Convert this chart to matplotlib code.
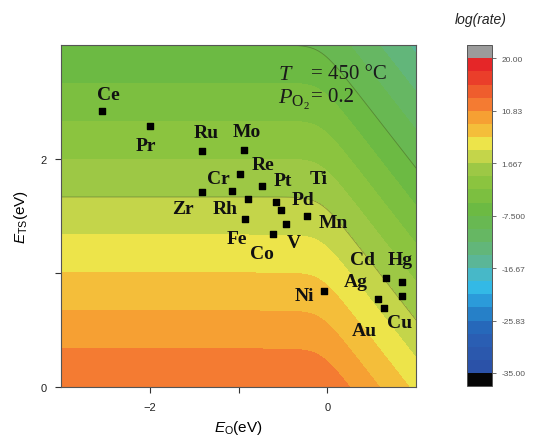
import numpy as np
import matplotlib
matplotlib.use("Agg")
import matplotlib.pyplot as plt
from matplotlib.colors import ListedColormap, BoundaryNorm

plt.rcParams["font.family"] = ["Liberation Sans", "DejaVu Sans"]
plt.rcParams["mathtext.fontset"] = "custom"
plt.rcParams["mathtext.rm"] = "Liberation Sans"
plt.rcParams["mathtext.it"] = "Liberation Sans:italic"
plt.rcParams["mathtext.sf"] = "Liberation Serif:italic"
plt.rcParams["mathtext.tt"] = "Liberation Serif"

# scatter data: oxygen binding energy vs transition state energy
metals = ["Ce", "Pr", "Ru", "Mo", "Re", "Cr", "Zr", "Rh", "Fe", "Pt", "Ti",
          "Pd", "V", "Mn", "Co", "Ni", "Cd", "Hg", "Cu", "Ag", "Au"]
e_o = [-2.54, -2.00, -1.41, -0.94, -0.98, -1.07, -1.41, -0.89, -0.93, -0.74, -0.58,
       -0.52, -0.46, -0.23, -0.61, -0.04, 0.66, 0.84, 0.84, 0.57, 0.64]
e_ts = [2.42, 2.29, 2.07, 2.08, 1.87, 1.72, 1.71, 1.65, 1.47, 1.76, 1.62,
        1.55, 1.43, 1.50, 1.34, 0.84, 0.96, 0.92, 0.80, 0.77, 0.69]

# colorbar levels / labels
levels = np.linspace(-35, 20, 25)
cbar_ticks = [-35.0, -25.83, -16.67, -7.5, 1.667, 10.83, 20.0]
cbar_ticklabels = ["-35.00", "-25.83", "-16.67", "-7.500", "1.667", "10.83", "20.00"]

# rate model parameters (log10 rate surface)
logr0 = 13.125     # log(rate) at E_TS = 0, strong O binding
slope = 6.875      # per eV
eo_bend = -0.08    # eV, where O coverage starts to drop
width = 0.09       # eV

# label offsets (points) for each metal
offsets = {
    "Ce": (5, 12), "Pr": (-3, -14), "Ru": (3, 13), "Mo": (2, 13), "Re": (16, 7),
    "Cr": (-10, 9), "Zr": (-14, -12), "Rh": (-17, -7), "Fe": (-6, -14),
    "Pt": (15, 4), "Ti": (31, 17), "Pd": (16, 8), "V": (5, -13), "Mn": (19, -5),
    "Co": (-8, -14), "Ni": (-14, -3), "Cd": (-17, 13), "Hg": (-1, 16),
    "Cu": (-2, -19), "Ag": (-16, 13), "Au": (-14, -16),
}

band_colors = [
    "#2b52a8", "#2b58ad", "#2a5eb3", "#2668ba", "#2680c8", "#2b9bda",
    "#33b9e6", "#47b8c8", "#5bb697", "#62b67a", "#66b763", "#68b852",
    "#6cba43", "#7cbf40", "#8bc43f", "#9dc845", "#c4d54a", "#ede44a",
    "#f4be3a", "#f6a033", "#f47b32", "#ef5d2d", "#ea3e2a", "#e52628",
]
cmap = ListedColormap(band_colors)
cmap.set_over("#9b9b9b")
cmap.set_under("#050505")
norm = BoundaryNorm(levels, cmap.N)

xg = np.linspace(-3, 1, 400)
yg = np.linspace(0, 3, 300)
X, Y = np.meshgrid(xg, yg)
Z = logr0 - slope * (Y + width * np.logaddexp(0, (X - eo_bend) / width))

fig = plt.figure(figsize=(5.38, 4.39), dpi=100)
ax = fig.add_axes([0.1134, 0.1162, 0.660, 0.779])
cf = ax.contourf(X, Y, Z, levels=levels, cmap=cmap, norm=norm, extend="both")
ax.contour(X, Y, Z, levels=[-7.5, 1.667], colors="#3a4a2a", linewidths=0.6,
           linestyles="solid", alpha=0.45)

ax.scatter(e_o, e_ts, marker="s", s=20, color="black", zorder=3)
for name, x, y in zip(metals, e_o, e_ts):
    ax.annotate(name, (x, y), xytext=offsets[name], textcoords="offset points",
                ha="center", va="center", fontsize=14, fontweight="bold",
                family="Liberation Serif", color="#111111", zorder=4)

ax.text(0.611, 0.918, r"$\mathsf{T}$", transform=ax.transAxes, fontsize=16,
        va="center", color="#1a1a1a")
ax.text(0.705, 0.918, "= 450 °C", transform=ax.transAxes, fontsize=15,
        va="center", family="Liberation Serif", color="#1a1a1a")
ax.text(0.611, 0.842, r"$\mathsf{P}_{\mathtt{O}_{\mathtt{2}}}$", transform=ax.transAxes,
        fontsize=16, va="center", color="#1a1a1a")
ax.text(0.705, 0.848, "= 0.2", transform=ax.transAxes, fontsize=15,
        va="center", family="Liberation Serif", color="#1a1a1a")

ax.set_xlim(-3, 1)
ax.set_ylim(0, 3)
ax.set_xticks([-2, 0])
ax.set_xticks([-1], minor=True)
ax.set_yticks([0, 2])
ax.set_yticks([1], minor=True)
ax.tick_params(which="both", direction="out", length=4, width=0.8, labelsize=8,
               color="#333333", labelcolor="#222222")
ax.tick_params(axis="x", pad=7)
ax.tick_params(axis="y", pad=6)
for sp in ax.spines.values():
    sp.set_color("#555555")
    sp.set_linewidth(0.8)
ax.set_xlabel(r"$E_{\mathrm{O}}$(eV)", fontsize=11, labelpad=4)
ax.set_ylabel(r"$E_{\mathrm{TS}}$(eV)", fontsize=11, labelpad=8)

cax = fig.add_axes([0.868, 0.118, 0.046, 0.777])
cb = fig.colorbar(cf, cax=cax, extend="both", extendrect=True, extendfrac=0.042)
cb.set_ticks(cbar_ticks)
cb.set_ticklabels(cbar_ticklabels)
cb.ax.minorticks_off()
cb.ax.tick_params(labelsize=6, length=3, width=0.6, colors="#555555", pad=4)
cb.outline.set_edgecolor("#555555")
cb.outline.set_linewidth(0.7)
fig.text(0.893, 0.955, "log(rate)", ha="center", va="center", fontsize=10,
         style="italic", color="#222222")

fig.savefig("out.png", dpi=100)
